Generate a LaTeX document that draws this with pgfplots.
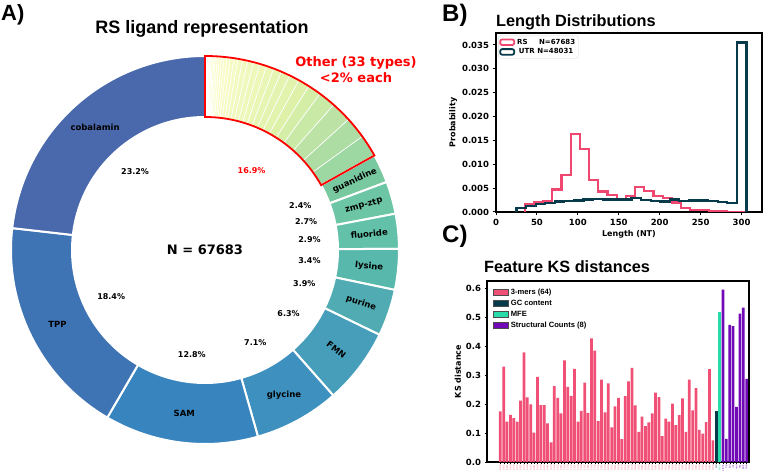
\documentclass[border=0pt]{standalone}
\usepackage{pgfplots}
\pgfplotsset{compat=1.18}
\usepackage{pgfplotstable}
\usepackage{fontspec}
\setmainfont{DejaVu Sans}
\newfontfamily\arial{Liberation Sans}

\definecolor{rspink}{RGB}{239,71,111}
\definecolor{utrdark}{RGB}{7,59,76}
\definecolor{mfeg}{RGB}{40,220,170}
\definecolor{structp}{RGB}{114,9,183}
\definecolor{cguan}{RGB}{120,201,160}
\definecolor{czmp}{RGB}{108,197,165}
\definecolor{cfluo}{RGB}{98,193,168}
\definecolor{clys}{RGB}{88,184,172}
\definecolor{cpur}{RGB}{80,172,178}
\definecolor{cfmn}{RGB}{70,158,186}
\definecolor{cgly}{RGB}{62,145,191}
\definecolor{csam}{RGB}{56,132,190}
\definecolor{ctpp}{RGB}{63,116,180}
\definecolor{ccob}{RGB}{74,105,172}

\pgfplotsset{/pgf/number format/assume math mode=true}

% the 33 small ligand types (percent), smallest first
\pgfplotstableread{
pct
0.05
0.05
0.06
0.07
0.08
0.09
0.10
0.11
0.12
0.13
0.15
0.17
0.19
0.21
0.24
0.27
0.30
0.33
0.40
0.44
0.48
0.53
0.58
0.62
0.68
0.75
0.85
0.95
1.10
1.45
1.70
1.80
1.85
}\otherslices

\pgfplotstableread{
name pct col
guanidine 2.4 cguan
zmp-ztp 2.7 czmp
fluoride 2.9 cfluo
lysine 3.4 clys
purine 3.9 cpur
FMN 6.3 cfmn
glycine 7.1 cgly
SAM 12.8 csam
TPP 18.4 ctpp
cobalamin 23.2 ccob
}\namedslices

\newcommand\ringseg[2]{(#1:194pt) arc[start angle=#1, end angle=#2, radius=194pt] -- (#2:133pt) arc[start angle=#2, end angle=#1, radius=133pt] -- cycle}

\begin{document}
\begin{tikzpicture}[x=1pt,y=1pt]
\path[use as bounding box] (0,0) rectangle (763,473);

% ---------------- A) donut
\begin{axis}[at={(0pt,0pt)}, anchor=south west, x=1pt, y=1pt,
  xmin=0, xmax=763, ymin=0, ymax=473, hide axis, disabledatascaling, clip=false]
\pgfplotsextra{
 \begin{scope}[shift={(axis cs:205,223)}]
  \xdef\acur{90}
  \foreach \i in {0,...,32}{%
    \pgfplotstablegetelem{\i}{pct}\of\otherslices
    \pgfmathsetmacro\anext{\acur-3.6*\pgfplotsretval}
    \pgfmathsetmacro\fr{(90-0.5*(\acur+\anext))/60.84}
    \pgfmathtruncatemacro\rr{\fr<0.5 ? 255-66*\fr : 222-72*(2*\fr-1)}
    \pgfmathtruncatemacro\gg{\fr<0.5 ? 255-26*\fr : 242-30*(2*\fr-1)}
    \pgfmathtruncatemacro\bb{\fr<0.5 ? 205-70*\fr : 170-10*(2*\fr-1)}
    \definecolor{segc}{RGB}{\rr,\gg,\bb}
    \fill[segc, draw=white, line width=0.6pt] \ringseg{\acur}{\anext};
    \xdef\acur{\anext}
  }
  \foreach \i in {0,...,9}{%
    \pgfplotstablegetelem{\i}{pct}\of\namedslices \let\pv\pgfplotsretval
    \pgfplotstablegetelem{\i}{name}\of\namedslices \let\nm\pgfplotsretval
    \pgfplotstablegetelem{\i}{col}\of\namedslices \let\ccol\pgfplotsretval
    \pgfmathsetmacro\anext{\acur-3.6*\pv}
    \pgfmathsetmacro\amid{0.5*(\acur+\anext)}
    \pgfmathsetmacro\rot{\pv<7 ? \amid : 0}
    \fill[\ccol, draw=white, line width=2pt] \ringseg{\acur}{\anext};
    \node[font=\fontsize{8.5}{9}\selectfont\bfseries, rotate=\rot, inner sep=1pt] at (\amid:165pt) {\nm};
    \node[font=\fontsize{8}{9}\selectfont\bfseries, inner sep=1pt] at (\amid:105pt) {\pv\%};
    \xdef\acur{\anext}
  }
  \draw[red, line width=1.8pt, line join=miter] \ringseg{90}{29.16};
  \node[red, font=\fontsize{8}{9}\selectfont\bfseries] at (59.58:92pt) {16.9\%};
  \node[font=\fontsize{13}{15}\selectfont\bfseries] at (0,0) {N = 67683};
 \end{scope}
}
\end{axis}

% ---------------- B) length distributions
\begin{axis}[at={(496pt,261pt)}, anchor=south west, scale only axis,
  width=266pt, height=179pt,
  xmin=0, xmax=325, ymin=0, ymax=0.0375,
  xtick={0,50,100,150,200,250,300},
  ytick={0,0.005,0.010,0.015,0.020,0.025,0.030,0.035},
  scaled y ticks=false,
  ticklabel style={font=\fontsize{8.5}{10}\selectfont\bfseries},
  yticklabel style={/pgf/number format/fixed, /pgf/number format/fixed zerofill, /pgf/number format/precision=3},
  tick align=outside, xtick pos=bottom, ytick pos=left,
  major tick length=3.5pt, tick style={black, line width=1pt},
  axis line style={line width=1.3pt},
  xlabel={Length (NT)}, ylabel={Probability},
  label style={font=\fontsize{8}{9}\selectfont\bfseries},
  xlabel style={yshift=2pt}, ylabel style={yshift=-2pt},
  legend style={at={(0.008,0.985)}, anchor=north west, draw=black!15,
    rounded corners=2pt, font=\fontsize{7}{8}\selectfont\bfseries,
    inner sep=1pt, row sep=-1pt},
  legend image code/.code={\draw[#1, fill=white, line width=1.8pt] (0pt,-2.8pt) rectangle (14pt,2.8pt);},
]
\addplot[const plot, rspink, line width=2.2pt, line join=miter] coordinates {
(35,0) (35,0.0016) (46.25,0.0021) (57.5,0.0022) (68.75,0.0047) (80,0.0078)
(91.25,0.0163) (102.5,0.0132) (113.75,0.0067) (125,0.0043) (136.25,0.0035)
(147.5,0.0027) (158.75,0.0034) (170,0.0052) (181.25,0.0044) (192.5,0.0034)
(203.75,0.0029) (215,0.0020) (226.25,0.0009) (237.5,0.0005) (248.75,0.0004)
(260,0.0002) (271.25,0.0001) (282.5,0.00005) (293.75,0.00002) (305,0.00002) (305,0)};
\addlegendentry{\makebox[22pt][l]{RS}N=67683}
\addplot[const plot, utrdark, line width=2.2pt, line join=miter] coordinates {
(25,0) (25,0.0009) (36.7,0.0012) (48.4,0.0016) (60.1,0.0019) (71.8,0.0022)
(83.5,0.0023) (95.3,0.0024) (107,0.0026) (118.7,0.0028) (130.4,0.0026)
(142.1,0.0026) (153.8,0.0026) (165.5,0.0030) (177.2,0.0025) (188.9,0.0023)
(200.6,0.0022) (212.3,0.0026) (224,0.0023) (235.7,0.0024) (247.4,0.0024)
(259.2,0.0023) (270.9,0.0021) (282.6,0.0019) (294.3,0.0355) (306,0.0355) (306,0)};
\addlegendentry{UTR N=48031}
\end{axis}

% ---------------- C) feature KS distances
\begin{axis}[at={(487pt,11pt)}, anchor=south west, scale only axis,
  width=262pt, height=181pt,
  xmin=-3.94, xmax=73.7, ymin=0, ymax=0.627,
  ytick={0,0.1,0.2,0.3,0.4,0.5,0.6},
  yticklabel style={font=\fontsize{8.5}{10}\selectfont\bfseries,
    /pgf/number format/fixed, /pgf/number format/fixed zerofill, /pgf/number format/precision=1},
  xtick={0,...,73},
  xticklabels={AAA,AAC,AAG,AAU,ACA,ACC,ACG,ACU,AGA,AGC,AGG,AGU,AUA,AUC,AUG,AUU,
    CAA,CAC,CAG,CAU,CCA,CCC,CCG,CCU,CGA,CGC,CGG,CGU,CUA,CUC,CUG,CUU,
    GAA,GAC,GAG,GAU,GCA,GCC,GCG,GCU,GGA,GGC,GGG,GGU,GUA,GUC,GUG,GUU,
    UAA,UAC,UAG,UAU,UCA,UCC,UCG,UCU,UGA,UGC,UGG,UGU,UUA,UUC,UUG,UUU,
    {\textcolor{utrdark}{GC}},{\textcolor{mfeg}{MFE}},
    {\textcolor{structp}{stem}},{\textcolor{structp}{hp}},{\textcolor{structp}{bul}},{\textcolor{structp}{int}},
    {\textcolor{structp}{mul}},{\textcolor{structp}{ext}},{\textcolor{structp}{pair}},{\textcolor{structp}{unp}}},
  xticklabel style={rotate=90, anchor=east, text=rspink!80, inner sep=0.5pt,
    font=\fontsize{2.4}{2.4}\selectfont},
  tick align=outside, xtick pos=bottom, ytick pos=left,
  major tick length=2.5pt, tick style={black, line width=0.8pt},
  xtick style={line width=0.3pt},
  axis line style={line width=1.3pt},
  ylabel={KS distance},
  ylabel style={font=\fontsize{8}{9}\selectfont\bfseries, yshift=-2pt},
  legend style={at={(0.02,0.975)}, anchor=north west, draw=none, fill=white,
    font=\arial\fontsize{7.6}{9}\selectfont\bfseries, inner sep=1pt, row sep=0.2pt},
  legend cell align=left,
]
\pgfplotsset{kspatch/.style={legend image code/.code={\draw[##1, draw=black!70, line width=0.4pt] (0pt,-3.3pt) rectangle (15pt,3.3pt);}}}
\addplot[ybar, bar width=0.8, bar shift=0pt, fill=rspink!95, draw=none, kspatch] coordinates {
(0,0.175) (1,0.330) (2,0.140) (3,0.163) (4,0.152) (5,0.140) (6,0.213) (7,0.380)
(8,0.224) (9,0.200) (10,0.102) (11,0.295) (12,0.197) (13,0.197) (14,0.134) (15,0.068)
(16,0.263) (17,0.222) (18,0.168) (19,0.352) (20,0.260) (21,0.229) (22,0.323) (23,0.140)
(24,0.177) (25,0.275) (26,0.170) (27,0.428) (28,0.386) (29,0.142) (30,0.285) (31,0.172)
(32,0.272) (33,0.120) (34,0.193) (35,0.222) (36,0.079) (37,0.228) (38,0.279) (39,0.326)
(40,0.196) (41,0.104) (42,0.157) (43,0.124) (44,0.137) (45,0.168) (46,0.240) (47,0.225)
(48,0.090) (49,0.150) (50,0.140) (51,0.202) (52,0.128) (53,0.162) (54,0.220) (55,0.104)
(56,0.285) (57,0.179) (58,0.256) (59,0.111) (60,0.098) (61,0.138) (62,0.322) (63,0.075)};
\addlegendentry{3-mers (64)}
\addplot[ybar, bar width=0.8, bar shift=0pt, fill=utrdark, draw=none, kspatch] coordinates {(64,0.177)};
\addlegendentry{GC content}
\addplot[ybar, bar width=0.8, bar shift=0pt, fill=mfeg, draw=none, kspatch] coordinates {(65,0.520)};
\addlegendentry{MFE}
\addplot[ybar, bar width=0.8, bar shift=0pt, fill=structp, draw=none, kspatch] coordinates {
(66,0.597) (67,0.080) (68,0.475) (69,0.471) (70,0.191) (71,0.514) (72,0.535) (73,0.288)};
\addlegendentry{Structural Counts (8)}
\end{axis}

% ---------------- titles and panel letters
\node[anchor=base west, inner sep=0, font=\arial\fontsize{22}{24}\selectfont\bfseries] at (1,452) {A)};
\node[anchor=base, inner sep=0, font=\arial\fontsize{18}{21}\selectfont\bfseries] at (202,439) {RS ligand representation};
\node[anchor=center, align=center, red, font=\fontsize{13}{16}\selectfont\bfseries] at (356,403) {Other (33 types)\\<2\% each};
\node[anchor=base west, inner sep=0, font=\arial\fontsize{24}{26}\selectfont\bfseries] at (442,451) {B)};
\node[anchor=base west, inner sep=0, font=\arial\fontsize{16.3}{19}\selectfont\bfseries] at (496,446) {Length Distributions};
\node[anchor=base west, inner sep=0, font=\arial\fontsize{24}{26}\selectfont\bfseries] at (442,230) {C)};
\node[anchor=base west, inner sep=0, font=\arial\fontsize{16.3}{19}\selectfont\bfseries] at (484,200) {Feature KS distances};
\end{tikzpicture}
\end{document}
